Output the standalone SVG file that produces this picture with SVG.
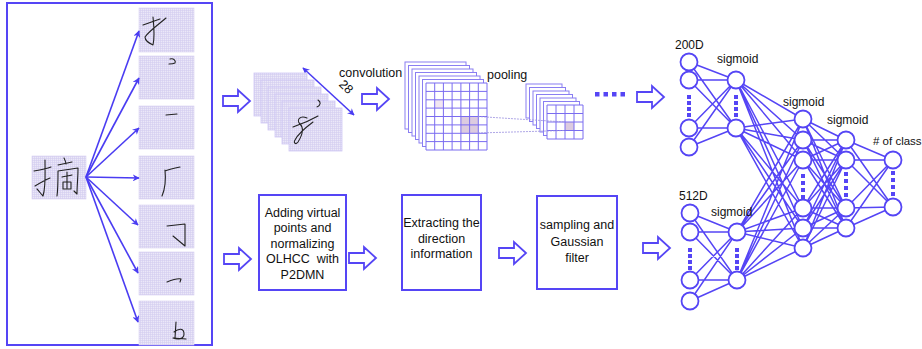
<svg xmlns="http://www.w3.org/2000/svg" xmlns:xlink="http://www.w3.org/1999/xlink" width="922" height="349" viewBox="0 0 922 349">
<style>
.t{font-family:"Liberation Sans",Arial,sans-serif;font-size:12.5px;fill:#111}
.tn{font-family:"Liberation Sans",Arial,sans-serif;font-size:12px;fill:#111}
.tc{font-family:"Liberation Sans",Arial,sans-serif;font-size:12.5px;fill:#111;text-anchor:middle}
.panel{fill:none;stroke:#5545f5;stroke-width:2}
.box{fill:#fff;stroke:#5545f5;stroke-width:2}
.grid{fill:url(#gp);stroke:#d6d0f2;stroke-width:0.6}
.ink{fill:none;stroke:#222;stroke-width:1.1;stroke-linecap:round;stroke-linejoin:round}
.conn{fill:none;stroke:#4a3cf2;stroke-width:1.6}
.hol{fill:#fff;stroke:#5545f5;stroke-width:1.8;stroke-linejoin:miter}
.net{fill:none;stroke:#5545f5;stroke-width:1.5}
.nd{fill:#fff;stroke:#5545f5;stroke-width:1.8}
.dot{fill:#5545f5}
.fr{fill:#fff;stroke:#8a7ef2;stroke-width:1}
.frg{fill:url(#gp);stroke:#d0c8f4;stroke-width:0.8}
.gl{fill:none;stroke:#7a6cf0;stroke-width:1}
.hl{fill:#dccbe0}
</style>
<defs>
<pattern id="gp" width="2" height="2" patternUnits="userSpaceOnUse">
<rect width="2" height="2" fill="#ebe8f8"/>
<path d="M0,0.5H2M0.5,0V2" stroke="#d3cdf0" stroke-width="0.6"/>
</pattern>
<marker id="ah" viewBox="0 0 10 10" refX="9" refY="5" markerWidth="7" markerHeight="7" orient="auto-start-reverse" markerUnits="userSpaceOnUse">
<path d="M0,0 L10,5 L0,10 L3,5 Z" fill="#4a3cf2"/>
</marker>
<polygon id="ha" points="0,6 15,6 15,0 27,11 15,22 15,16 0,16"/>
</defs>

<g id="left-panel">
<rect class="panel" x="7" y="3" width="205" height="342"/>
</g>

<g id="char-main">
<rect class="grid" x="32" y="156" width="54" height="43"/>
<path class="ink" d="M34,171 C40,170 46,169 51,167 M45,160 C45,174 46,186 43,196 C41,194 39,191 37,189 M35,186 C40,183 45,180 50,178 M58,165 C63,164 68,163 72,162 M64,158 C65,160 66,162 66,164 M58,171 C58,180 58,189 57,196 M58,171 C65,170 72,169 78,168 C78,177 77,186 77,194 C76,193 75,192 74,191 M62,177 C66,176 69,176 72,175 M67,172 L67,188 M63,182 L71,182 L71,189 L63,189 Z"/>
</g>

<g id="stroke-1"><rect class="grid" x="139" y="8" width="55" height="44"/>
<path class="ink" d="M143,25 C149,23 154,21 160,19 M153,17 C154,27 155,36 153,45 C149,43 145,41 145,37 C149,31 158,25 166,18"/></g>
<g id="stroke-2"><rect class="grid" x="139" y="56" width="55" height="43"/>
<path class="ink" d="M170,59 C174,58 176,61 175,63 C173,64 171,64 169,64"/></g>
<g id="stroke-3"><rect class="grid" x="139" y="106" width="55" height="43"/>
<path class="ink" d="M166,115 L177,114"/></g>
<g id="stroke-4"><rect class="grid" x="139" y="156" width="55" height="43"/>
<path class="ink" d="M165,171 C170,169 175,168 180,167 M165,170 C166,180 165,189 162,196"/></g>
<g id="stroke-5"><rect class="grid" x="139" y="205" width="55" height="43"/>
<path class="ink" d="M167,226 L185,224 L185,246 L173,236"/></g>
<g id="stroke-6"><rect class="grid" x="139" y="252" width="55" height="43"/>
<path class="ink" d="M167,282 C172,280 177,278 181,279 L180,282"/></g>
<g id="stroke-7"><rect class="grid" x="139" y="301" width="55" height="44"/>
<path class="ink" d="M176,322 L175,338 M174,332 C179,328 184,328 184,334 C184,339 178,340 173,338 L186,339"/></g>

<g id="connectors">
<path class="conn" marker-end="url(#ah)" d="M86,177 L139,31"/>
<path class="conn" marker-end="url(#ah)" d="M86,177 L139,78"/>
<path class="conn" marker-end="url(#ah)" d="M86,177 L139,128"/>
<path class="conn" marker-end="url(#ah)" d="M86,177 L139,178"/>
<path class="conn" marker-end="url(#ah)" d="M86,177 L138,225"/>
<path class="conn" marker-end="url(#ah)" d="M86,177 L138,273"/>
<path class="conn" marker-end="url(#ah)" d="M86,177 L138,322"/>
<path class="conn" marker-start="url(#ah)" marker-end="url(#ah)" d="M303,68 L354,115"/>
<use href="#ha" class="hol" x="223" y="90"/>
<use href="#ha" class="hol" x="362" y="88"/>
<use href="#ha" class="hol" x="637" y="86"/>
<use href="#ha" class="hol" x="224" y="248"/>
<use href="#ha" class="hol" x="349" y="247"/>
<use href="#ha" class="hol" x="499" y="242"/>
<use href="#ha" class="hol" x="643" y="237"/>
</g>

<g id="input-stack">
<rect class="frg" x="254" y="73" width="53" height="43"/>
<rect class="frg" x="261" y="80" width="53" height="43"/>
<rect class="frg" x="268" y="87" width="53" height="43"/>
<rect class="frg" x="275" y="94" width="53" height="43"/>
<rect class="frg" x="282" y="101" width="53" height="43"/>
<path class="ink" d="M318,100 C321,102 321,105 317,107"/>
<rect class="frg" x="289" y="108" width="53" height="43"/>
<path class="ink" d="M293,127 C302,124 311,120 318,116 M307,118 C300,115 296,120 300,124 C304,128 303,134 298,142 C296,145 293,143 295,140 C298,134 305,128 313,122"/>
<text class="t" x="339" y="77">convolution</text>
<text class="t" transform="translate(346,87) rotate(45)" text-anchor="middle" y="4">28</text>
</g>

<g id="conv-stack">
<rect class="fr" x="405" y="62" width="61" height="67"/>
<rect class="fr" x="408.5" y="65.5" width="61" height="67"/>
<rect class="fr" x="412" y="69" width="61" height="67"/>
<rect class="fr" x="415.5" y="72.5" width="61" height="67"/>
<rect class="fr" x="419" y="76" width="61" height="67"/>
<rect class="fr" x="422.5" y="79.5" width="61" height="67"/>
<rect fill="#fff" x="426" y="83" width="61" height="67"/>
<rect fill="#f1e6f1" x="434.7" y="99.8" width="8.7" height="8.4"/>
<rect class="hl" x="460.9" y="116.5" width="17.4" height="16.8"/>
<path class="gl" d="M426,83V150M434.7,83V150M443.4,83V150M452.1,83V150M460.9,83V150M469.6,83V150M478.3,83V150M487,83V150M426,83H487M426,91.4H487M426,99.8H487M426,108.1H487M426,116.5H487M426,124.9H487M426,133.3H487M426,141.6H487M426,150H487"/>
<text class="t" x="487" y="79">pooling</text>
</g>

<g id="pool-stack">
<rect class="fr" x="526" y="84" width="36" height="34"/>
<rect class="fr" x="529.5" y="87.5" width="36" height="34"/>
<rect class="fr" x="533" y="91" width="36" height="34"/>
<rect class="fr" x="536.5" y="94.5" width="36" height="34"/>
<rect class="fr" x="540" y="98" width="36" height="34"/>
<rect class="fr" x="543.5" y="101.5" width="36" height="34"/>
<rect fill="#fff" x="547" y="105" width="36" height="34"/>
<rect class="hl" x="565" y="122" width="9" height="8.5"/>
<path class="gl" d="M547,105V139M556,105V139M565,105V139M574,105V139M583,105V139M547,105H583M547,113.5H583M547,122H583M547,130.5H583M547,139H583"/>
<path fill="none" stroke="#9a90e0" stroke-width="0.8" stroke-dasharray="2,1" d="M478,116.5 L565,122 M478,133 L565,130.5"/>
<rect class="dot" x="595" y="92" width="4.5" height="4.5"/>
<rect class="dot" x="603.5" y="92" width="4.5" height="4.5"/>
<rect class="dot" x="612" y="92" width="4.5" height="4.5"/>
<rect class="dot" x="620.5" y="92" width="4.5" height="4.5"/>
</g>

<g id="box-1">
<rect class="box" x="259" y="195" width="87" height="95"/>
<text class="tc" x="302.5" y="217">Adding virtual</text>
<text class="tc" x="302.5" y="232">points and</text>
<text class="tc" x="302.5" y="248">normalizing</text>
<text class="tc" x="302.5" y="263" xml:space="preserve">OLHCC  with</text>
<text class="tc" x="302.5" y="279">P2DMN</text>
</g>
<g id="box-2">
<rect class="box" x="402" y="195" width="79" height="95"/>
<text class="tc" x="441.5" y="227">Extracting the</text>
<text class="tc" x="441.5" y="243">direction</text>
<text class="tc" x="441.5" y="258">information</text>
</g>
<g id="box-3">
<rect class="box" x="537" y="196" width="80" height="93"/>
<text class="tc" x="577" y="229">sampling and</text>
<text class="tc" x="577" y="246">Gaussian</text>
<text class="tc" x="577" y="262">filter</text>
</g>

<g id="network-edges">
<path class="net" d="M689,62L736,80M689,62L736,128M689,80L736,80M689,80L736,128M689,128L736,80M689,128L736,128M689,147L736,80M689,147L736,128
M690,213L737,232M690,213L737,280M690,232L737,232M690,232L737,280M690,280L737,232M690,280L737,280M690,301L737,232M690,301L737,280
M736,80L803,119M736,80L803,140M736,80L803,160M736,80L803,208M736,80L803,228M736,80L803,248
M736,128L803,119M736,128L803,140M736,128L803,160M736,128L803,208M736,128L803,228M736,128L803,248
M737,232L803,119M737,232L803,140M737,232L803,160M737,232L803,208M737,232L803,228M737,232L803,248
M737,280L803,119M737,280L803,140M737,280L803,160M737,280L803,208M737,280L803,228M737,280L803,248
M803,119L846,140M803,119L846,160M803,119L846,208M803,119L846,228
M803,140L846,140M803,140L846,160M803,140L846,208M803,140L846,228
M803,160L846,140M803,160L846,160M803,160L846,208M803,160L846,228
M803,208L846,140M803,208L846,160M803,208L846,208M803,208L846,228
M803,228L846,140M803,228L846,160M803,228L846,208M803,228L846,228
M803,248L846,140M803,248L846,160M803,248L846,208M803,248L846,228
M846,140L893,160M846,140L893,207M846,160L893,160M846,160L893,207M846,208L893,160M846,208L893,207M846,228L893,160M846,228L893,207"/>
</g>

<g id="layer-200D">
<circle class="nd" cx="689" cy="62" r="8.5"/><circle class="nd" cx="689" cy="80" r="8.5"/>
<circle class="nd" cx="689" cy="128" r="8.5"/><circle class="nd" cx="689" cy="147" r="8.5"/>
<rect class="dot" x="687" y="95" width="4" height="4"/><rect class="dot" x="687" y="101" width="4" height="4"/><rect class="dot" x="687" y="107" width="4" height="4"/><rect class="dot" x="687" y="113" width="4" height="4"/>
<text class="tn" x="675" y="49">200D</text>
</g>
<g id="layer-h1-top">
<circle class="nd" cx="736" cy="80" r="8.5"/><circle class="nd" cx="736" cy="128" r="8.5"/>
<rect class="dot" x="734" y="95" width="4" height="4"/><rect class="dot" x="734" y="101" width="4" height="4"/><rect class="dot" x="734" y="107" width="4" height="4"/><rect class="dot" x="734" y="113" width="4" height="4"/>
<text class="tn" x="717" y="63">sigmoid</text>
</g>
<g id="layer-512D">
<circle class="nd" cx="690" cy="213" r="8.5"/><circle class="nd" cx="690" cy="232" r="8.5"/>
<circle class="nd" cx="690" cy="280" r="8.5"/><circle class="nd" cx="690" cy="301" r="8.5"/>
<rect class="dot" x="688" y="248" width="4" height="4"/><rect class="dot" x="688" y="254" width="4" height="4"/><rect class="dot" x="688" y="260" width="4" height="4"/><rect class="dot" x="688" y="266" width="4" height="4"/>
<text class="tn" x="679" y="200">512D</text>
</g>
<g id="layer-h1-bottom">
<circle class="nd" cx="737" cy="232" r="8.5"/><circle class="nd" cx="737" cy="280" r="8.5"/>
<rect class="dot" x="735" y="248" width="4" height="4"/><rect class="dot" x="735" y="254" width="4" height="4"/><rect class="dot" x="735" y="260" width="4" height="4"/><rect class="dot" x="735" y="266" width="4" height="4"/>
<text class="tn" x="711" y="216">sigmoid</text>
</g>
<g id="layer-3">
<circle class="nd" cx="803" cy="119" r="8.5"/><circle class="nd" cx="803" cy="140" r="8.5"/><circle class="nd" cx="803" cy="160" r="8.5"/>
<circle class="nd" cx="803" cy="208" r="8.5"/><circle class="nd" cx="803" cy="228" r="8.5"/><circle class="nd" cx="803" cy="248" r="8.5"/>
<rect class="dot" x="801" y="174" width="4" height="4"/><rect class="dot" x="801" y="181" width="4" height="4"/><rect class="dot" x="801" y="188" width="4" height="4"/><rect class="dot" x="801" y="195" width="4" height="4"/>
<text class="tn" x="783" y="106">sigmoid</text>
</g>
<g id="layer-4">
<circle class="nd" cx="846" cy="140" r="8.5"/><circle class="nd" cx="846" cy="160" r="8.5"/>
<circle class="nd" cx="846" cy="208" r="8.5"/><circle class="nd" cx="846" cy="228" r="8.5"/>
<rect class="dot" x="844" y="172" width="4" height="4"/><rect class="dot" x="844" y="179" width="4" height="4"/><rect class="dot" x="844" y="186" width="4" height="4"/><rect class="dot" x="844" y="193" width="4" height="4"/>
<text class="tn" x="827" y="124">sigmoid</text>
</g>
<g id="layer-out">
<circle class="nd" cx="893" cy="160" r="8.5"/><circle class="nd" cx="893" cy="207" r="8.5"/>
<rect class="dot" x="891" y="171" width="4" height="4"/><rect class="dot" x="891" y="178" width="4" height="4"/><rect class="dot" x="891" y="185" width="4" height="4"/><rect class="dot" x="891" y="192" width="4" height="4"/>
<text class="tn" x="873" y="145" style="font-size:11.5px"># of class</text>
</g>
</svg>
